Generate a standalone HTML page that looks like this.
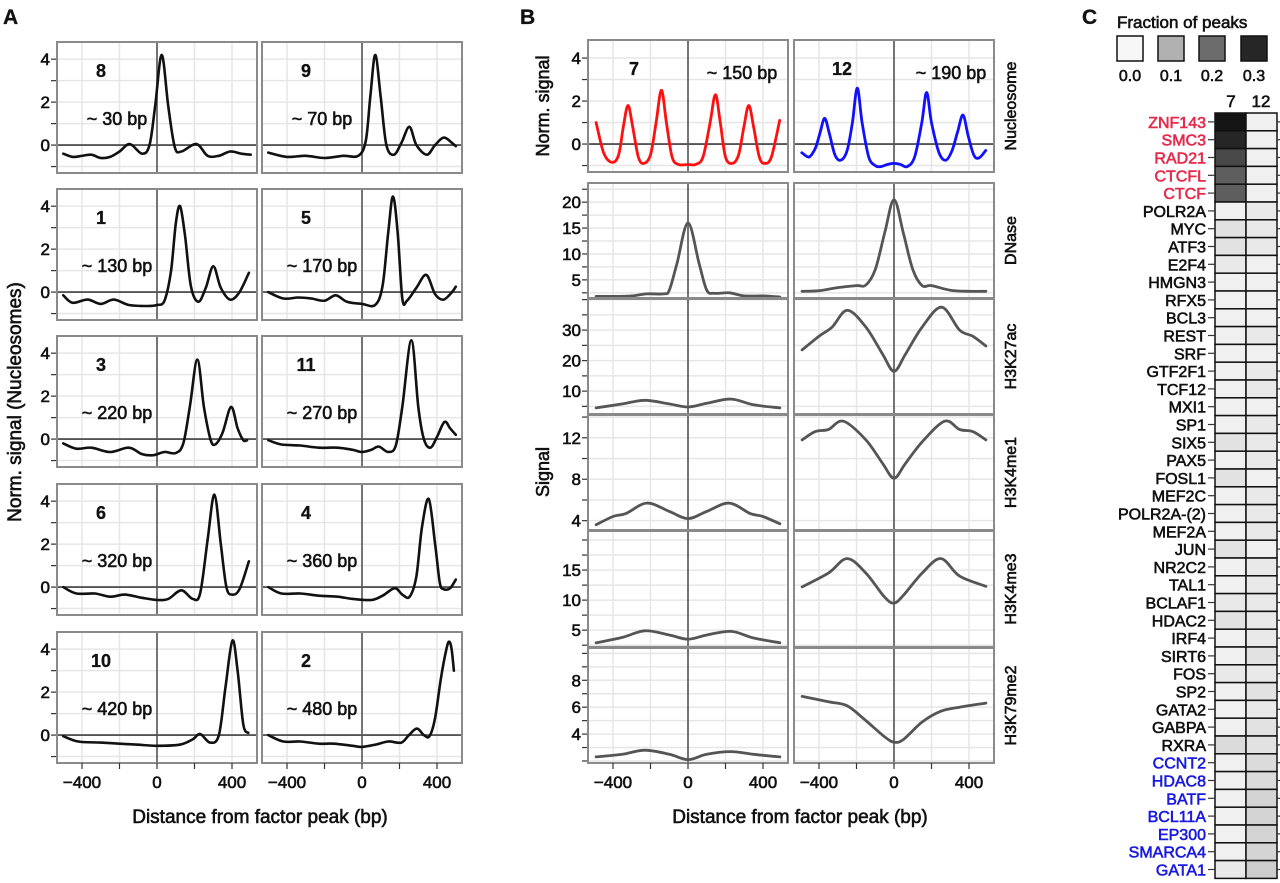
<!DOCTYPE html>
<html><head><meta charset="utf-8">
<style>
html,body{margin:0;padding:0;background:#fff;}
svg{display:block;font-family:"Liberation Sans",Arial,sans-serif;}
</style></head>
<body>
<svg id="fig" width="1280" height="883" viewBox="0 0 1280 883" xmlns="http://www.w3.org/2000/svg">
<text x="3" y="24" font-size="21" font-weight="bold" fill="#111">A</text>
<text x="520" y="24" font-size="21" font-weight="bold" fill="#111">B</text>
<text x="1082" y="24" font-size="21" font-weight="bold" fill="#111">C</text>
<text transform="translate(21,402) rotate(-90)" text-anchor="middle" font-size="19" fill="#111">Norm. signal (Nucleosomes)</text>
<text x="260" y="823" text-anchor="middle" font-size="19" fill="#111">Distance from factor peak (bp)</text>
<text transform="translate(549,106) rotate(-90)" text-anchor="middle" font-size="18" fill="#111">Norm. signal</text>
<text transform="translate(549,472) rotate(-90)" text-anchor="middle" font-size="18" fill="#111">Signal</text>
<text x="800" y="823" text-anchor="middle" font-size="19" fill="#111">Distance from factor peak (bp)</text>
<text x="1117" y="28" font-size="17" fill="#111">Fraction of peaks</text>
<text x="1231" y="107" text-anchor="middle" font-size="17" fill="#111">7</text>
<text x="1261" y="107" text-anchor="middle" font-size="17" fill="#111">12</text>
<g id="layer"></g>
</svg>
<script>
// ---------- Panel A data ----------
const aLabels = ["8","9","1","5","3","11","6","4","10","2"];
const aBp = ["~ 30 bp","~ 70 bp","~ 130 bp","~ 170 bp","~ 220 bp","~ 270 bp","~ 320 bp","~ 360 bp","~ 420 bp","~ 480 bp"];
const aC8 = [[-500,-0.4],[-450,-0.55],[-400,-0.5],[-350,-0.45],[-300,-0.6],[-250,-0.55],[-200,-0.3],[-145,0.05],[-80,-0.4],[-40,0],[-10,1.8],[25,4.2],[60,1.8],[95,-0.1],[130,-0.3],[210,0.05],[270,-0.5],[330,-0.5],[390,-0.3],[450,-0.4],[500,-0.45]];
const aC9 = [[-500,-0.35],[-400,-0.55],[-300,-0.5],[-200,-0.6],[-100,-0.5],[-20,-0.5],[20,0.2],[45,2.3],[71,4.2],[100,2.2],[130,0],[170,-0.45],[210,0.1],[253,0.85],[290,0],[346,-0.45],[390,0],[436,0.35],[480,0.1],[500,-0.05]];
const aC1 = [[-500,-0.15],[-450,-0.5],[-370,-0.35],[-300,-0.55],[-230,-0.35],[-150,-0.6],[-50,-0.65],[0,-0.6],[40,-0.4],[75,1],[100,3.2],[123,4.0],[150,2.6],[180,0.3],[220,-0.45],[260,0.2],[300,1.2],[340,0.2],[390,-0.35],[440,0],[490,0.9]];
const aC5 = [[-500,0],[-420,-0.3],[-340,-0.25],[-270,-0.3],[-200,-0.4],[-140,-0.15],[-80,-0.45],[0,-0.55],[70,-0.6],[110,0.3],[140,2.8],[165,4.45],[190,2.8],[215,-0.3],[240,-0.4],[290,0.2],[343,0.8],[390,-0.1],[435,-0.35],[480,0],[500,0.25]];
const aC3 = [[-500,-0.2],[-430,-0.45],[-350,-0.4],[-250,-0.6],[-150,-0.4],[-80,-0.7],[-20,-0.75],[40,-0.6],[100,-0.65],[140,-0.2],[175,1.5],[215,3.7],[250,1.5],[285,0],[310,-0.25],[350,0.3],[395,1.5],[430,0.5],[460,-0.05],[480,-0.05]];
const aC11 = [[-500,-0.05],[-430,-0.25],[-330,-0.3],[-230,-0.4],[-130,-0.4],[-50,-0.5],[0,-0.6],[50,-0.5],[90,-0.35],[140,-0.6],[180,-0.3],[215,1.5],[263,4.6],[300,1.5],[330,0],[365,-0.4],[400,0.1],[440,0.8],[470,0.5],[500,0.2]];
const aC6 = [[-500,0],[-430,-0.3],[-330,-0.3],[-250,-0.45],[-170,-0.35],[-80,-0.5],[0,-0.6],[60,-0.55],[130,-0.15],[190,-0.55],[230,-0.3],[270,2.2],[306,4.3],[340,2.0],[370,0],[400,-0.35],[440,-0.1],[490,1.2]];
const aC4 = [[-500,0],[-430,-0.3],[-330,-0.3],[-230,-0.4],[-130,-0.45],[-50,-0.55],[50,-0.6],[110,-0.4],[175,-0.05],[215,-0.35],[254,-0.45],[290,0.5],[320,2.8],[356,4.1],[390,2],[415,0.2],[436,-0.1],[470,-0.05],[500,0.35]];
const aC10 = [[-500,-0.05],[-420,-0.3],[-300,-0.35],[-200,-0.4],[-100,-0.45],[0,-0.5],[120,-0.45],[190,-0.2],[230,0.05],[283,-0.35],[330,0],[365,2.2],[402,4.4],[430,3],[460,0.5],[487,0.1]];
const aC2 = [[-500,0],[-420,-0.3],[-330,-0.3],[-230,-0.4],[-150,-0.4],[-50,-0.5],[0,-0.55],[70,-0.45],[140,-0.3],[210,-0.35],[250,0],[293,0.3],[330,0],[360,-0.05],[390,0.8],[420,2.6],[450,4.0],[465,4.35],[478,4.0],[490,3.0]];
const aCurves = [aC8,aC9,aC1,aC5,aC3,aC11,aC6,aC4,aC10,aC2];
const aYTicks = [0,2,4];
const xTicks = [-400,0,400];
const xTickLabels = ["\u2212400","0","400"];

// ---------- Panel B data ----------
const bRows = ["Nucleosome","DNase","H3K27ac","H3K4me1","H3K4me3","H3K79me2"];
const bNuc7 = [[-490,1.0],[-450,-0.4],[-405,-0.85],[-370,-0.5],[-345,0.8],[-320,1.8],[-295,0.8],[-265,-0.6],[-236,-0.9],[-200,-0.5],[-170,1.0],[-142,2.5],[-115,1.0],[-85,-0.6],[-50,-0.95],[0,-0.95],[40,-0.95],[80,-0.6],[118,1.0],[146,2.3],[172,1.0],[200,-0.6],[236,-0.9],[270,-0.5],[298,0.8],[324,1.8],[350,0.8],[380,-0.6],[409,-0.9],[445,-0.6],[489,1.1]];
const bNuc12 = [[-492,-0.4],[-453,-0.6],[-420,-0.2],[-395,0.5],[-370,1.2],[-345,0.5],[-315,-0.5],[-284,-0.75],[-250,-0.3],[-222,1.0],[-196,2.6],[-170,1.0],[-135,-0.6],[-100,-1.0],[-71,-1.05],[-35,-0.95],[0,-0.9],[35,-0.95],[70,-1.05],[110,-0.6],[148,1.0],[174,2.4],[200,1.0],[240,-0.4],[276,-0.75],[310,-0.3],[340,0.6],[368,1.35],[395,0.4],[425,-0.5],[453,-0.65],[489,-0.3]];
const bDn7 = [[-490,1.8],[-400,1.8],[-300,1.9],[-220,2.3],[-130,2.3],[-100,3],[-60,8],[0,16],[60,8],[100,3],[140,2.4],[220,2.5],[300,1.9],[400,1.9],[490,1.7]];
const bDn12 = [[-490,2.8],[-400,2.9],[-300,3.5],[-200,3.9],[-150,4],[-100,7],[-50,14],[0,20.5],[50,14],[100,7],[150,3.9],[200,3.9],[300,3],[400,2.8],[490,2.8]];
const bK27_7 = [[-490,4.5],[-350,5.8],[-230,7],[-100,5.8],[0,4.8],[100,6],[230,7.4],[350,5.5],[490,4.5]];
const bK27_12 = [[-490,23.5],[-400,28],[-330,31],[-249,36.5],[-150,31],[-60,22],[0,16.5],[60,22],[150,31],[254,37.5],[350,30],[420,28],[490,24.8]];
const bK4me1_7 = [[-490,3.6],[-400,4.4],[-330,4.7],[-220,5.7],[-100,4.9],[0,4.2],[100,4.9],[220,5.7],[330,4.7],[400,4.4],[490,3.7]];
const bK4me1_12 = [[-490,11.8],[-420,12.6],[-350,12.8],[-270,13.6],[-150,11.8],[-60,9.5],[0,8.1],[60,9.5],[150,11.6],[270,13.6],[350,12.8],[420,12.6],[490,11.8]];
const bK4me3_7 = [[-490,2.9],[-350,3.8],[-230,4.9],[-100,4.2],[0,3.5],[100,4.2],[230,4.8],[350,3.7],[490,2.9]];
const bK4me3_12 = [[-490,12.2],[-350,14.5],[-250,16.9],[-150,14.5],[-50,10.5],[0,9.5],[50,10.8],[150,14.5],[250,16.9],[350,14],[490,12.3]];
const bK79_7 = [[-490,2.3],[-350,2.5],[-230,2.8],[-100,2.5],[0,2.1],[100,2.5],[230,2.7],[350,2.5],[490,2.3]];
const bK79_12 = [[-490,6.8],[-350,6.4],[-250,6.1],[-150,5],[-50,3.8],[0,3.4],[50,3.6],[150,4.9],[250,5.7],[350,6],[490,6.3]];
const bLeft = [bNuc7,bDn7,bK27_7,bK4me1_7,bK4me3_7,bK79_7];
const bRight = [bNuc12,bDn12,bK27_12,bK4me1_12,bK4me3_12,bK79_12];
const bYDomains = [[-1.3,4.84],[1.5,23.7],[2.5,40.2],[3.1,14.2],[2.2,21.5],[1.85,10.4]];
const bYTicks = [[0,2,4],[5,10,15,20],[10,20,30],[4,8,12],[5,10,15],[4,6,8]];
const bYStep = [1,2.5,5,2,2.5,1];

// ---------- Panel C data ----------
const cFactors = ["ZNF143","SMC3","RAD21","CTCFL","CTCF","POLR2A","MYC","ATF3","E2F4","HMGN3","RFX5","BCL3","REST","SRF","GTF2F1","TCF12","MXI1","SP1","SIX5","PAX5","FOSL1","MEF2C","POLR2A-(2)","MEF2A","JUN","NR2C2","TAL1","BCLAF1","HDAC2","IRF4","SIRT6","FOS","SP2","GATA2","GABPA","RXRA","CCNT2","HDAC8","BATF","BCL11A","EP300","SMARCA4","GATA1"];
const cGroup = ["r","r","r","r","r","k","k","k","k","k","k","k","k","k","k","k","k","k","k","k","k","k","k","k","k","k","k","k","k","k","k","k","k","k","k","k","b","b","b","b","b","b","b"];
const cVal7 = [0.33,0.3,0.25,0.22,0.22,0.01,0.03,0.03,0.02,0.01,0.01,0.01,0.01,0.01,0.01,0.01,0.01,0.01,0.03,0.01,0.03,0.01,0.01,0.01,0.03,0.01,0.01,0.02,0.03,0.01,0.01,0.02,0.01,0.01,0.01,0.04,0.01,0.01,0.01,0.01,0.01,0.01,0.02];
const cVal12 = [0.01,0.01,0.01,0.01,0.01,0.02,0.02,0.02,0.01,0.01,0.01,0.01,0.02,0.01,0.02,0.02,0.01,0.02,0.02,0.02,0.01,0.02,0.02,0.02,0.01,0.02,0.02,0.02,0.02,0.02,0.03,0.02,0.03,0.02,0.03,0.03,0.04,0.04,0.05,0.05,0.05,0.05,0.06];
const legendVals = [0.0,0.1,0.2,0.3];
const legendLabels = ["0.0","0.1","0.2","0.3"];

// ---------- helpers ----------
const NS = "http://www.w3.org/2000/svg";
const layer = document.getElementById("layer");
function mk(tag, attrs, parent){ const e=document.createElementNS(NS,tag); for(const k in attrs) e.setAttribute(k,attrs[k]); (parent||layer).appendChild(e); return e; }
function smoothPath(pts){
  let d="M"+pts[0][0].toFixed(1)+","+pts[0][1].toFixed(1);
  for(let i=0;i<pts.length-1;i++){
    const p0=pts[Math.max(0,i-1)],p1=pts[i],p2=pts[i+1],p3=pts[Math.min(pts.length-1,i+2)];
    const c1=[p1[0]+(p2[0]-p0[0])/6,p1[1]+(p2[1]-p0[1])/6], c2=[p2[0]-(p3[0]-p1[0])/6,p2[1]-(p3[1]-p1[1])/6];
    d+="C"+c1[0].toFixed(1)+","+c1[1].toFixed(1)+" "+c2[0].toFixed(1)+","+c2[1].toFixed(1)+" "+p2[0].toFixed(1)+","+p2[1].toFixed(1);
  }
  return d;
}
function xScale(left){ return v => left + 100 + v*0.1875; }
function yScale(top,bottom,dom){ return v => bottom - (v-dom[0])/(dom[1]-dom[0])*(bottom-top); }

function drawPanel(o){
  const X=xScale(o.left), Y=yScale(o.top,o.bottom,o.dom);
  const w=200;
  const bg=mk("rect",{x:o.left,y:o.top,width:w,height:o.bottom-o.top,fill:"#fff"});
  
  
  for(let gx=-400; gx<=400; gx+=200){
    const l=mk("line",{x1:X(gx),x2:X(gx),y1:o.top,y2:o.bottom,stroke:"#e6e6e6","stroke-width":1.5});
    
    
  }
  for(let gy=Math.ceil(o.dom[0]/o.step)*o.step; gy<=o.dom[1]; gy+=o.step){
    const l=mk("line",{x1:o.left,x2:o.left+w,y1:Y(gy),y2:Y(gy),stroke:"#e6e6e6","stroke-width":1.5});
    
    
    if(o.yAxis){
      const t=mk("line",{x1:o.left-6,x2:o.left,y1:Y(gy),y2:Y(gy),stroke:"#333","stroke-width":1.2});
      
      
    }
  }
  if(o.zeroH){
    const z=mk("line",{x1:o.left,x2:o.left+w,y1:Y(0),y2:Y(0),stroke:"#555","stroke-width":1.8});
    
    
  }
  const zv=mk("line",{x1:X(0),x2:X(0),y1:o.top,y2:o.bottom,stroke:"#555","stroke-width":1.6});
  
  
  const p=mk("path",{d:smoothPath(o.data.map(d=>[X(d[0]),Y(d[1])])),fill:"none",stroke:o.color,"stroke-width":o.sw||2.6,"stroke-linejoin":"round","stroke-linecap":"round"});
  
  
  const br=mk("rect",{x:o.left,y:o.top,width:w,height:o.bottom-o.top,fill:"none",stroke:"#8a8a8a","stroke-width":2});
  
  
  if(o.yAxis){
    o.ticks.forEach(t=>{
      const tx=mk("text",{x:o.left-7,y:Y(t)+6,"text-anchor":"end","font-size":17,fill:"#111"});
      tx.textContent=String(t);
      
      
    });
  }
  if(o.xAxis){
    xTicks.forEach((t,i)=>{
      const l=mk("line",{x1:X(t),x2:X(t),y1:o.bottom,y2:o.bottom+6,stroke:"#333","stroke-width":1.2});
      
      
      const tx=mk("text",{x:X(t),y:o.bottom+25,"text-anchor":"middle","font-size":17,fill:"#111"});
      tx.textContent=xTickLabels[i];
      
      
    });
    [-200,200].forEach(t=>{
      const l=mk("line",{x1:X(t),x2:X(t),y1:o.bottom,y2:o.bottom+6,stroke:"#333","stroke-width":1.2});
      
      
    });
  }
  return {X,Y};
}

// ---------- draw panel A ----------
const aTops=[42,189,336,484,632];
for(let i=0;i<10;i++){
  const r=Math.floor(i/2), c=i%2;
  const left=c===0?57:262, top=aTops[r], bottom=top+131;
  drawPanel({name:"cluster-"+aLabels[i],left,top,bottom,dom:[-1.3,4.8],step:1,data:aCurves[i],color:"#111",zeroH:true,yAxis:c===0,ticks:aYTicks,xAxis:r===4});
  const t1=mk("text",{x:left+44,y:top+35,"text-anchor":"middle","font-size":18,"font-weight":"bold",fill:"#111"});
  t1.textContent=aLabels[i];
  
  
  const t2=mk("text",{x:left+60,y:top+83,"text-anchor":"middle","font-size":18,fill:"#111"});
  t2.textContent=aBp[i];
  
  
}

// ---------- draw panel B ----------
const bTops=[40,183,299,415,531,648], bBots=[172,298,414,530,647,763];
for(let r=0;r<6;r++){
  [0,1].forEach(c=>{
    const left=c===0?588:794;
    const color = r===0 ? (c===0?"#ff1010":"#1010ff") : "#555";
    drawPanel({name:"b-"+bRows[r].toLowerCase()+"-"+(c===0?"7":"12"),left,top:bTops[r],bottom:bBots[r],dom:bYDomains[r],step:bYStep[r],data:(c===0?bLeft:bRight)[r],color,sw:2.8,zeroH:r===0,yAxis:c===0,ticks:bYTicks[r],xAxis:r===5});
  });
  const tl=mk("text",{transform:"translate(1016,"+((bTops[r]+bBots[r])/2)+") rotate(-90)","text-anchor":"middle","font-size":16,fill:"#111"});
  tl.textContent=bRows[r];
  
  
}
[["7",634,"~ 150 bp",742],["12",842,"~ 190 bp",951]].forEach(a=>{
  const t1=mk("text",{x:a[1],y:75,"text-anchor":"middle","font-size":18,"font-weight":"bold",fill:"#111"});
  t1.textContent=a[0];
  
  
  const t2=mk("text",{x:a[3],y:79,"text-anchor":"middle","font-size":18,fill:"#111"});
  t2.textContent=a[2];
  
  
});

// ---------- draw panel C ----------
function gray(v){ const g=Math.max(20,Math.min(247,Math.round(247-v*697))); return "rgb("+g+","+g+","+g+")"; }
const legX=[1117,1158,1199,1241];
legendVals.forEach((v,i)=>{
  const r=mk("rect",{x:legX[i],y:36,width:26,height:25,fill:gray(v),stroke:"#111","stroke-width":1.5});
  
  
  const t=mk("text",{x:legX[i]+13,y:81,"text-anchor":"middle","font-size":16,fill:"#111"});
  t.textContent=legendLabels[i];
  
  
});
const hTop=113, rowH=17.8, col7X=1215, col12X=1246, colW=31;
const colorMap={r:"#e62a4c",k:"#111",b:"#1a1ae0"};
cFactors.forEach((f,i)=>{
  const y=hTop+i*rowH;
  const c1=mk("rect",{x:col7X,y:y,width:colW,height:rowH,fill:gray(cVal7[i]),stroke:"#111","stroke-width":1.5});
  
  
  const c2=mk("rect",{x:col12X,y:y,width:colW,height:rowH,fill:gray(cVal12[i]),stroke:"#111","stroke-width":1.5});
  
  
  const tk=mk("line",{x1:col7X-7,x2:col7X,y1:y+rowH/2,y2:y+rowH/2,stroke:"#333","stroke-width":1.2});
  
  
  const tk2=mk("line",{x1:col12X+colW,x2:col12X+colW+4,y1:y+rowH/2,y2:y+rowH/2,stroke:"#333","stroke-width":1.2});
  
  
  const t=mk("text",{x:col7X-9,y:y+rowH/2+6,"text-anchor":"end","font-size":16,fill:colorMap[cGroup[i]]});
  t.textContent=f;
  
  
});
// heavier text weight to match reference
document.querySelectorAll("svg text").forEach(t=>{
  t.setAttribute("stroke", t.getAttribute("fill")||"#111");
  t.setAttribute("stroke-width", t.getAttribute("font-weight")==="bold" ? "0.3" : "0.6");
});
</script>
</body></html>
